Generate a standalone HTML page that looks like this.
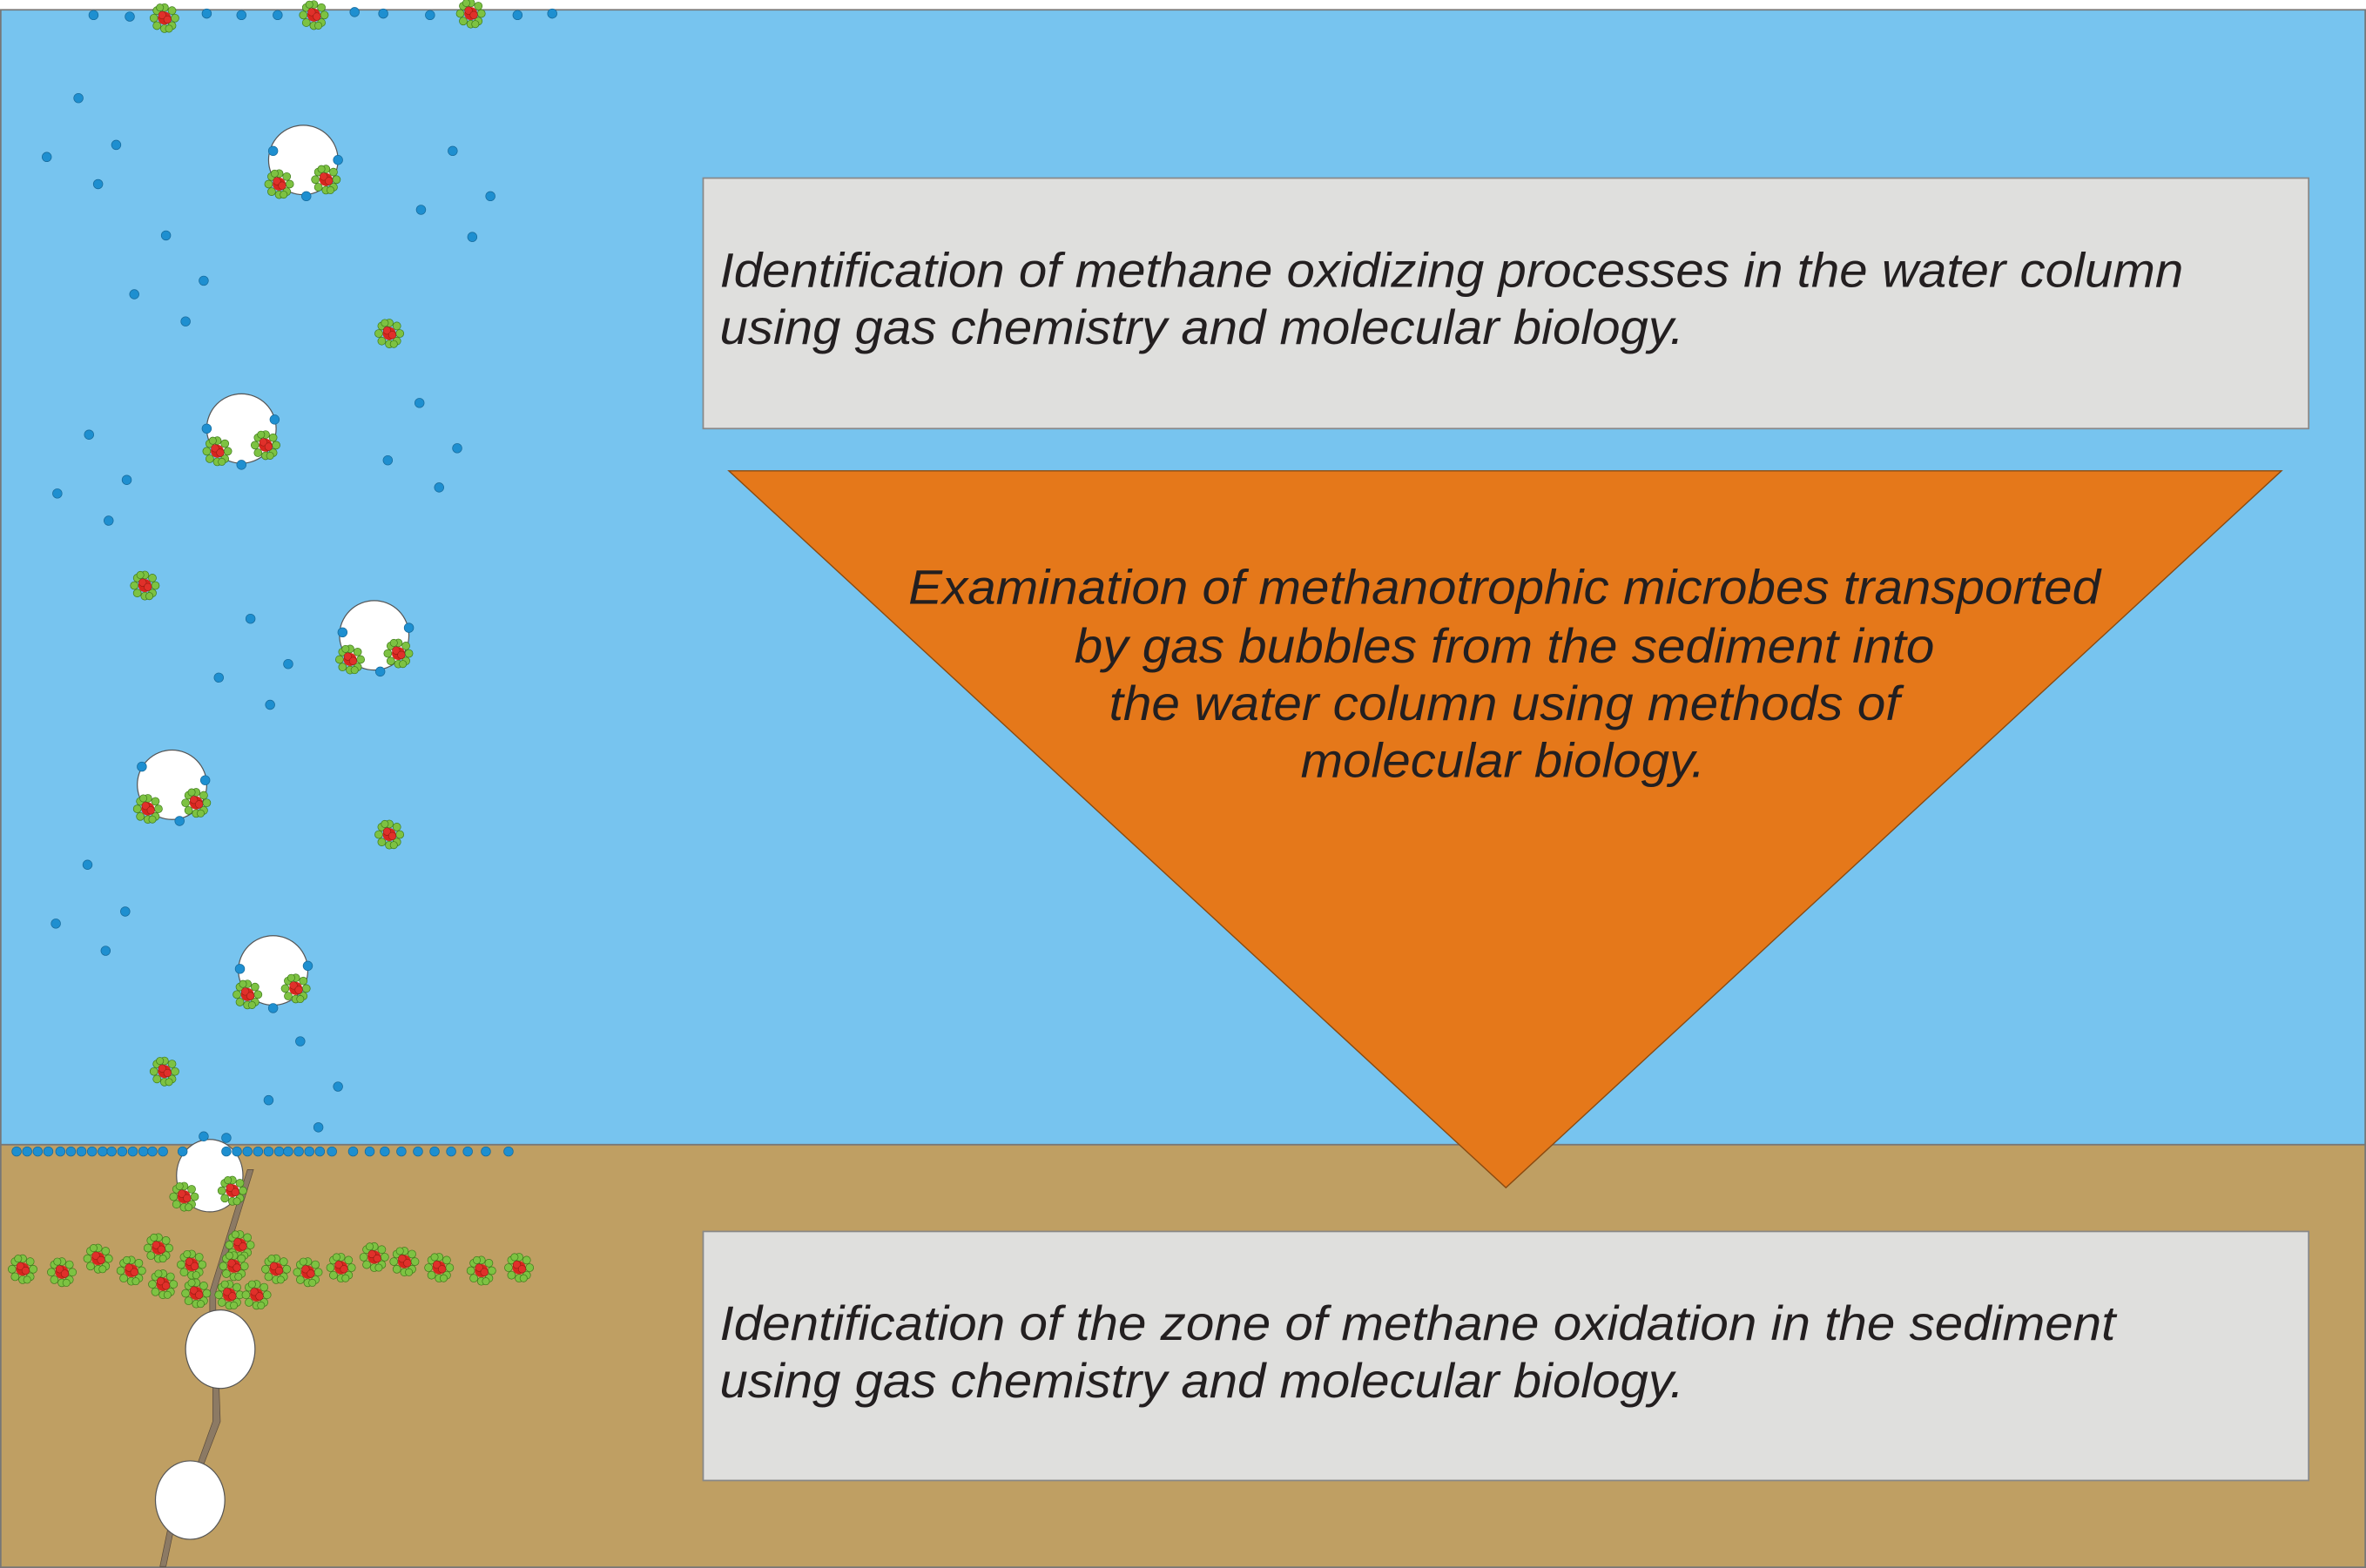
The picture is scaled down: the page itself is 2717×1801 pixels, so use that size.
<!DOCTYPE html>
<html><head><meta charset="utf-8"><style>
html,body{margin:0;padding:0;background:#fff;}
svg{display:block;}
text{font-family:"Liberation Sans",sans-serif;font-style:italic;fill:#231f20;}
</style></head><body>
<svg width="2717" height="1801" viewBox="0 0 1568 1039" preserveAspectRatio="none" xmlns="http://www.w3.org/2000/svg">
<defs>
<g id="m">
<circle cx="0" cy="-7" r="2.6" fill="#7dc242" stroke="#3d7a1a" stroke-width="0.4"/>
<circle cx="5" cy="-5" r="2.6" fill="#7dc242" stroke="#3d7a1a" stroke-width="0.4"/>
<circle cx="7" cy="0" r="2.6" fill="#7dc242" stroke="#3d7a1a" stroke-width="0.4"/>
<circle cx="5" cy="5" r="2.6" fill="#7dc242" stroke="#3d7a1a" stroke-width="0.4"/>
<circle cx="0" cy="7" r="2.6" fill="#7dc242" stroke="#3d7a1a" stroke-width="0.4"/>
<circle cx="-5" cy="5" r="2.6" fill="#7dc242" stroke="#3d7a1a" stroke-width="0.4"/>
<circle cx="-7" cy="0" r="2.6" fill="#7dc242" stroke="#3d7a1a" stroke-width="0.4"/>
<circle cx="-5" cy="-5" r="2.6" fill="#7dc242" stroke="#3d7a1a" stroke-width="0.4"/>
<circle cx="-3" cy="-7" r="2.4" fill="#7dc242" stroke="#3d7a1a" stroke-width="0.4"/>
<circle cx="3" cy="7" r="2.4" fill="#7dc242" stroke="#3d7a1a" stroke-width="0.4"/>
<circle cx="0" cy="0" r="4.3" fill="#d7261e"/>
<circle cx="-1.5" cy="-2" r="2.5" fill="#e0302a" stroke="#8a1a10" stroke-width="0.3"/>
<circle cx="2" cy="1" r="2.5" fill="#e0302a" stroke="#8a1a10" stroke-width="0.3"/>
</g>
<circle id="d" r="3.1" fill="#1e8fd0" stroke="#16699a" stroke-width="0.4"/>
</defs>
<rect x="0" y="0" width="1568" height="1039" fill="#fff"/>
<rect x="0.5" y="6.5" width="1567" height="752" fill="#77c4ef" stroke="#777" stroke-width="1"/>
<rect x="0.5" y="758.5" width="1567" height="280" fill="#bf9f63" stroke="#777" stroke-width="1"/>

<rect x="466" y="118" width="1064" height="166" fill="#dfdfdd" stroke="#888" stroke-width="1"/>
<text font-size="32" x="477" y="190" textLength="970" lengthAdjust="spacingAndGlyphs">Identification of methane oxidizing processes in the water column</text>
<text font-size="32" x="477" y="228" textLength="639" lengthAdjust="spacingAndGlyphs">using gas chemistry and molecular biology.</text>

<polygon points="483,312 1512,312 998,787" fill="#e5781a" stroke="#8a4a10" stroke-width="0.8"/>
<text font-size="32" x="602" y="400" textLength="790" lengthAdjust="spacingAndGlyphs">Examination of methanotrophic microbes transported</text>
<text font-size="32" x="712" y="439" textLength="570" lengthAdjust="spacingAndGlyphs">by gas bubbles from the sediment into</text>
<text font-size="32" x="735" y="477" textLength="524" lengthAdjust="spacingAndGlyphs">the water column using methods of</text>
<text font-size="32" x="862" y="515" textLength="268" lengthAdjust="spacingAndGlyphs">molecular biology.</text>

<rect x="466" y="816" width="1064" height="165" fill="#dfdfdd" stroke="#888" stroke-width="1"/>
<text font-size="32" x="477" y="888" textLength="925" lengthAdjust="spacingAndGlyphs">Identification of the zone of methane oxidation in the sediment</text>
<text font-size="32" x="477" y="926" textLength="639" lengthAdjust="spacingAndGlyphs">using gas chemistry and molecular biology.</text>

<polygon points="164,775 168,775 143,856 143,875 139,875 139,856" fill="#8c7a64" stroke="#5a4a3a" stroke-width="0.4"/>
<polygon points="141,914 145,914 146,942 132,978 128,978 141,942" fill="#8c7a64" stroke="#5a4a3a" stroke-width="0.4"/>
<polygon points="111,1014 115,1014 110,1038 106,1038" fill="#8c7a64" stroke="#5a4a3a" stroke-width="0.4"/>

<g fill="#fff" stroke="#555" stroke-width="0.7">
<ellipse cx="201" cy="106" rx="23" ry="23"/>
<ellipse cx="160" cy="284" rx="23" ry="23"/>
<ellipse cx="248" cy="421" rx="23" ry="23"/>
<ellipse cx="114" cy="520" rx="23" ry="23"/>
<ellipse cx="181" cy="643" rx="23" ry="23"/>
<ellipse cx="139" cy="779" rx="22" ry="24"/>
<ellipse cx="146" cy="894" rx="23" ry="26"/>
<ellipse cx="126" cy="994" rx="23" ry="26"/>
</g>

<g>
<use href="#d" x="62" y="10"/><use href="#d" x="86" y="11"/><use href="#d" x="137" y="9"/><use href="#d" x="160" y="10"/><use href="#d" x="184" y="10"/><use href="#d" x="235" y="8"/><use href="#d" x="254" y="9"/><use href="#d" x="285" y="10"/><use href="#d" x="343" y="10"/><use href="#d" x="366" y="9"/>
<use href="#d" x="52" y="65"/><use href="#d" x="77" y="96"/><use href="#d" x="31" y="104"/><use href="#d" x="65" y="122"/>
<use href="#d" x="110" y="156"/><use href="#d" x="135" y="186"/><use href="#d" x="89" y="195"/><use href="#d" x="123" y="213"/>
<use href="#d" x="300" y="100"/><use href="#d" x="325" y="130"/><use href="#d" x="279" y="139"/><use href="#d" x="313" y="157"/>
<use href="#d" x="278" y="267"/><use href="#d" x="303" y="297"/><use href="#d" x="257" y="305"/><use href="#d" x="291" y="323"/>
<use href="#d" x="59" y="288"/><use href="#d" x="84" y="318"/><use href="#d" x="38" y="327"/><use href="#d" x="72" y="345"/>
<use href="#d" x="166" y="410"/><use href="#d" x="191" y="440"/><use href="#d" x="145" y="449"/><use href="#d" x="179" y="467"/>
<use href="#d" x="58" y="573"/><use href="#d" x="83" y="604"/><use href="#d" x="37" y="612"/><use href="#d" x="70" y="630"/>
<use href="#d" x="199" y="690"/><use href="#d" x="224" y="720"/><use href="#d" x="178" y="729"/><use href="#d" x="211" y="747"/>
<use href="#d" x="135" y="753"/>
<use href="#d" x="181" y="100"/><use href="#d" x="224" y="106"/><use href="#d" x="203" y="130"/>
<use href="#d" x="137" y="284"/><use href="#d" x="182" y="278"/><use href="#d" x="160" y="308"/>
<use href="#d" x="227" y="419"/><use href="#d" x="271" y="416"/><use href="#d" x="252" y="445"/>
<use href="#d" x="94" y="508"/><use href="#d" x="136" y="517"/><use href="#d" x="119" y="544"/>
<use href="#d" x="159" y="642"/><use href="#d" x="204" y="640"/><use href="#d" x="181" y="668"/>
<use href="#d" x="121" y="763"/><use href="#d" x="150" y="754"/>
<use href="#d" x="11" y="763"/><use href="#d" x="18" y="763"/><use href="#d" x="25" y="763"/><use href="#d" x="32" y="763"/><use href="#d" x="40" y="763"/><use href="#d" x="47" y="763"/><use href="#d" x="54" y="763"/><use href="#d" x="61" y="763"/><use href="#d" x="68" y="763"/><use href="#d" x="74" y="763"/><use href="#d" x="81" y="763"/><use href="#d" x="88" y="763"/><use href="#d" x="95" y="763"/><use href="#d" x="101" y="763"/><use href="#d" x="108" y="763"/>
<use href="#d" x="150" y="763"/><use href="#d" x="157" y="763"/><use href="#d" x="164" y="763"/><use href="#d" x="171" y="763"/><use href="#d" x="178" y="763"/><use href="#d" x="185" y="763"/><use href="#d" x="191" y="763"/><use href="#d" x="198" y="763"/><use href="#d" x="205" y="763"/><use href="#d" x="212" y="763"/><use href="#d" x="220" y="763"/><use href="#d" x="234" y="763"/><use href="#d" x="245" y="763"/><use href="#d" x="255" y="763"/><use href="#d" x="266" y="763"/><use href="#d" x="277" y="763"/><use href="#d" x="288" y="763"/><use href="#d" x="299" y="763"/><use href="#d" x="310" y="763"/><use href="#d" x="322" y="763"/><use href="#d" x="337" y="763"/>
</g>

<g>
<use href="#m" x="109" y="12"/><use href="#m" x="208" y="10"/><use href="#m" x="312" y="9"/>
<use href="#m" x="185" y="122"/><use href="#m" x="216" y="119"/>
<use href="#m" x="144" y="299"/><use href="#m" x="176" y="295"/>
<use href="#m" x="232" y="437"/><use href="#m" x="264" y="433"/>
<use href="#m" x="98" y="536"/><use href="#m" x="130" y="532"/>
<use href="#m" x="164" y="659"/><use href="#m" x="196" y="655"/>
<use href="#m" x="122" y="793"/><use href="#m" x="154" y="789"/>
<use href="#m" x="258" y="221"/><use href="#m" x="96" y="388"/><use href="#m" x="258" y="553"/><use href="#m" x="109" y="710"/>
<use href="#m" x="15" y="841"/><use href="#m" x="41" y="843"/><use href="#m" x="65" y="834"/><use href="#m" x="87" y="842"/><use href="#m" x="105" y="827"/><use href="#m" x="108" y="851"/><use href="#m" x="127" y="838"/><use href="#m" x="130" y="857"/><use href="#m" x="159" y="825"/><use href="#m" x="155" y="839"/><use href="#m" x="152" y="858"/><use href="#m" x="170" y="858"/><use href="#m" x="183" y="841"/><use href="#m" x="204" y="843"/><use href="#m" x="226" y="840"/><use href="#m" x="248" y="833"/><use href="#m" x="268" y="836"/><use href="#m" x="291" y="840"/><use href="#m" x="319" y="842"/><use href="#m" x="344" y="840"/>
</g>
</svg>
</body></html>
